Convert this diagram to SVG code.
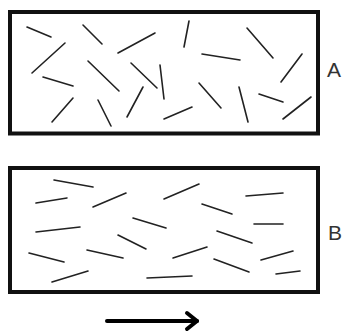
<svg xmlns="http://www.w3.org/2000/svg" width="345" height="332" viewBox="0 0 345 332">
<style>
.box{fill:none;stroke:#111;stroke-width:4}
.f{stroke:#222;stroke-width:1.6;stroke-linecap:round}
.lbl{font-family:"Liberation Sans",Arial,sans-serif;font-size:21px;fill:#333}
.arr{stroke:#000;stroke-width:4;fill:none;stroke-linecap:round;stroke-linejoin:round}
</style>
<rect width="345" height="332" fill="#fff"/>
<g id="nodeA">
<rect class="box" x="10" y="12" width="308" height="121.5"/>
<g>
<line class="f" x1="27" y1="27" x2="51" y2="37"/>
<line class="f" x1="83" y1="25" x2="102" y2="44"/>
<line class="f" x1="118" y1="53" x2="155" y2="33"/>
<line class="f" x1="189" y1="21" x2="184" y2="47"/>
<line class="f" x1="247" y1="28" x2="273" y2="58"/>
<line class="f" x1="202" y1="54" x2="240" y2="60"/>
<line class="f" x1="65" y1="43" x2="32" y2="73"/>
<line class="f" x1="88" y1="61" x2="119" y2="91"/>
<line class="f" x1="131" y1="63" x2="157" y2="88"/>
<line class="f" x1="160" y1="65" x2="164" y2="99"/>
<line class="f" x1="302" y1="54" x2="281" y2="82"/>
<line class="f" x1="43" y1="77" x2="73" y2="86"/>
<line class="f" x1="73" y1="98" x2="52" y2="122"/>
<line class="f" x1="98" y1="100" x2="111" y2="126"/>
<line class="f" x1="143" y1="87" x2="127" y2="117"/>
<line class="f" x1="164" y1="119" x2="192" y2="107"/>
<line class="f" x1="199" y1="83" x2="221" y2="108"/>
<line class="f" x1="239" y1="87" x2="248" y2="122"/>
<line class="f" x1="259" y1="94" x2="283" y2="102"/>
<line class="f" x1="311" y1="97" x2="283" y2="119"/>
</g>
<text class="lbl" x="327" y="77">A</text>
</g>
<g id="nodeB">
<rect class="box" x="10" y="168" width="308" height="124"/>
<g>
<line class="f" x1="54" y1="180" x2="93" y2="187"/>
<line class="f" x1="36" y1="203" x2="67" y2="198"/>
<line class="f" x1="93" y1="207" x2="126" y2="193"/>
<line class="f" x1="164" y1="199" x2="199" y2="184"/>
<line class="f" x1="246" y1="196" x2="283" y2="193"/>
<line class="f" x1="202" y1="204" x2="232" y2="214"/>
<line class="f" x1="133" y1="218" x2="166" y2="228"/>
<line class="f" x1="36" y1="232" x2="80" y2="227"/>
<line class="f" x1="254" y1="224" x2="283" y2="224"/>
<line class="f" x1="217" y1="231" x2="252" y2="243"/>
<line class="f" x1="118" y1="235" x2="146" y2="249"/>
<line class="f" x1="29" y1="253" x2="64" y2="262"/>
<line class="f" x1="87" y1="250" x2="123" y2="258"/>
<line class="f" x1="173" y1="258" x2="207" y2="247"/>
<line class="f" x1="214" y1="259" x2="249" y2="272"/>
<line class="f" x1="261" y1="260" x2="293" y2="251"/>
<line class="f" x1="52" y1="282" x2="88" y2="271"/>
<line class="f" x1="147" y1="278" x2="192" y2="276"/>
<line class="f" x1="276" y1="274" x2="300" y2="271"/>
</g>
<text class="lbl" x="328" y="240">B</text>
</g>
<g id="connectors">
<line class="arr" x1="107" y1="321" x2="197" y2="321"/>
<polyline class="arr" points="187,313 197,321 187,329"/>
</g>
</svg>
